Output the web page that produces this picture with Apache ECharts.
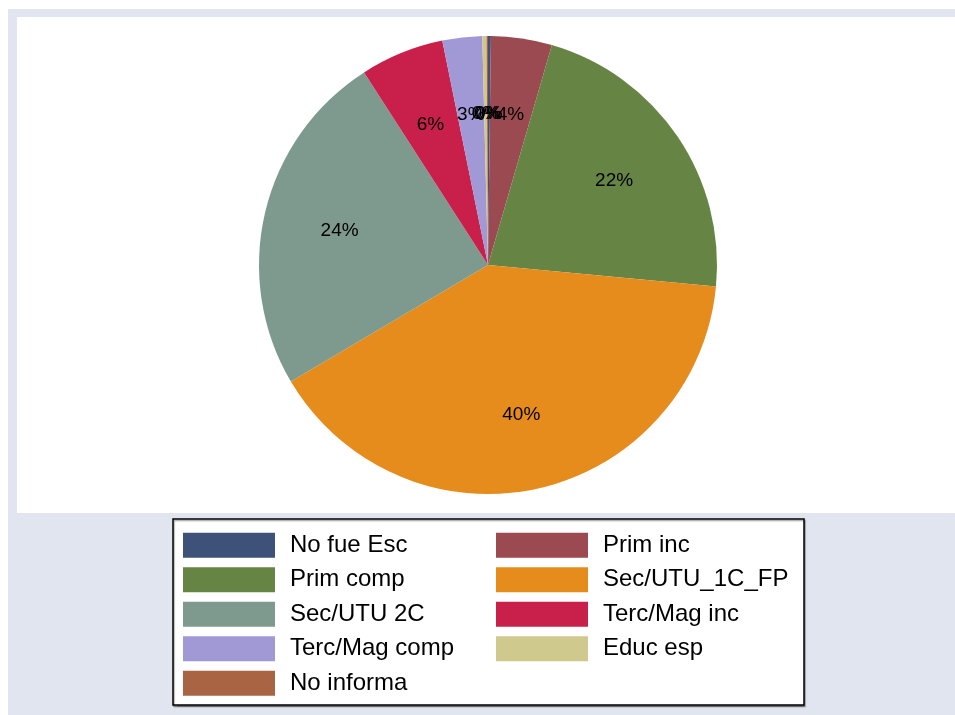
<!DOCTYPE html>
<html>
<head>
<meta charset="utf-8">
<script src="https://cdn.jsdelivr.net/npm/echarts@6/dist/echarts.min.js"></script>
<style>
  html, body { margin: 0; padding: 0; background: #fff; }
  #main { width: 955px; height: 715px; }
</style>
</head>
<body>
<div id="main"></div>
<script>
  // categories, clockwise from 12 o'clock
  var categories = ['No fue Esc', 'Prim inc', 'Prim comp', 'Sec/UTU_1C_FP', 'Sec/UTU 2C',
                    'Terc/Mag inc', 'Terc/Mag comp', 'Educ esp', 'No informa'];
  // share of total, in percent
  var shares = [0.2, 4.3, 22.0, 40.0, 24.4, 5.9, 2.8, 0.3, 0.1];
  var colors = ['#3E5279', '#9A4A50', '#668443', '#E68C1C', '#7E9A8E',
                '#C8204A', '#A099D6', '#D0C98E', '#A86443'];

  var pieData = categories.map(function (name, i) {
    return { name: name, value: shares[i], itemStyle: { color: colors[i] } };
  });
  var labelData = categories.map(function (name, i) {
    return { name: name, value: shares[i] };
  });

  var chart = echarts.init(document.getElementById('main'));
  chart.setOption({
    animation: false,
    backgroundColor: '#ffffff',
    graphic: [
      { type: 'rect', z: -10, shape: { x: 8, y: 9, width: 947, height: 706 }, style: { fill: '#E0E5EF' } },
      { type: 'rect', z: -9, shape: { x: 17, y: 17, width: 938, height: 496 }, style: { fill: '#ffffff' } },
      { type: 'rect', z: -9, shape: { x: 173, y: 519, width: 631, height: 186 },
        style: { fill: '#ffffff', stroke: '#000000', lineWidth: 1.5, shadowColor: 'rgba(0,0,0,0.35)', shadowOffsetX: 1, shadowOffsetY: 1.5, shadowBlur: 1 } }
    ],
    legend: {
      data: categories,
      left: 183,
      top: 528,
      width: 640,
      orient: 'horizontal',
      icon: 'rect',
      itemWidth: 92,
      itemHeight: 25,
      itemGap: 0,
      padding: 0,
      selectedMode: false,
      textStyle: {
        fontFamily: 'Liberation Sans, Arial, sans-serif',
        fontSize: 24,
        color: '#000000',
        width: 206,
        lineHeight: 34.5,
        padding: [0, 0, 0, 10]
      }
    },
    series: [
      {
        name: 'pie',
        type: 'pie',
        center: [488, 265],
        radius: [0, 229],
        startAngle: 90,
        clockwise: true,
        silent: true,
        itemStyle: { borderWidth: 0 },
        label: { show: false },
        labelLine: { show: false },
        data: pieData
      },
      {
        name: 'labels',
        type: 'pie',
        center: [488, 266],
        radius: [70, 229],
        startAngle: 90,
        clockwise: true,
        silent: true,
        avoidLabelOverlap: false,
        labelLayout: { hideOverlap: false },
        itemStyle: { color: 'rgba(0,0,0,0)', borderWidth: 0 },
        label: {
          show: true,
          position: 'inside',
          overflow: 'none',
          fontFamily: 'Liberation Sans, Arial, sans-serif',
          fontSize: 19,
          color: '#000000',
          formatter: function (p) { return Math.round(p.percent) + '%'; }
        },
        labelLine: { show: false },
        data: labelData
      }
    ]
  });
</script>
</body>
</html>
